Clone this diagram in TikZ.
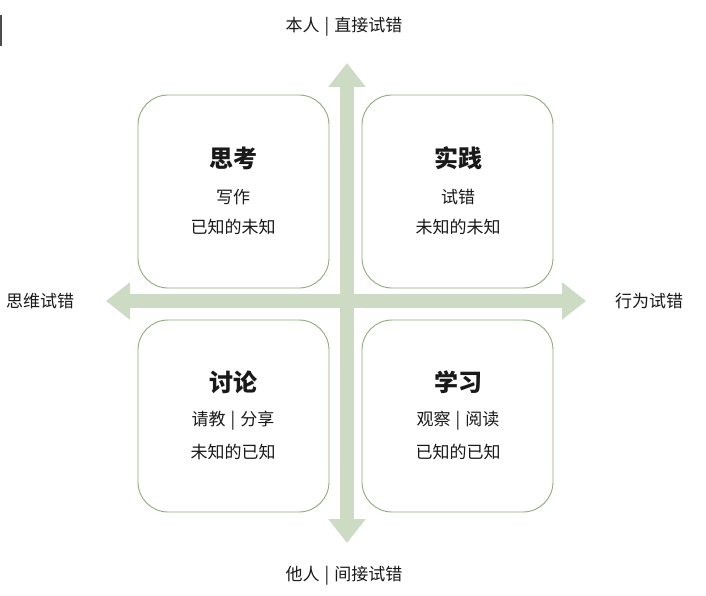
\documentclass[tikz,border=0pt]{standalone}
\usepackage{fontspec}
\newfontfamily\cjk{Noto Sans CJK SC}
\usetikzlibrary{arrows.meta}
\definecolor{axisgreen}{RGB}{206,219,196}
\definecolor{boxline}{RGB}{145,168,122}
\definecolor{inkgray}{RGB}{25,25,25}
\newcommand{\sepbar}{\hspace{5pt}|\hspace{5pt}}
\tikzset{
  quad/.style={draw=boxline, line width=0.9pt, rounded corners=30pt, fill=white},
  title/.style={font=\cjk\fontsize{24}{26}\selectfont\bfseries, text=inkgray},
  body/.style={font=\cjk\fontsize{17}{19}\selectfont, text=inkgray},
  axislabel/.style={font=\cjk\fontsize{17}{19}\selectfont, text=inkgray},
  axis/.style={draw=axisgreen, line width=14pt,
    {Triangle[width=36pt,length=24pt]}-{Triangle[width=36pt,length=24pt]}}
}
\begin{document}
\begin{tikzpicture}[x=1pt,y=-1pt]
\useasboundingbox[fill=white] (0,0) rectangle (706,596);

% small mark on the left edge
\draw[gray!60!black, line width=1.5pt] (1,15) -- (1,46);

% the two axes
\coordinate (top) at (347,63);
\coordinate (bottom) at (347,543);
\coordinate (left) at (106,301);
\coordinate (right) at (586,301);
\draw[axis] (left) -- (right);
\draw[axis] (top) -- (bottom);

% four quadrants
\draw[quad] (138,95) rectangle (329,288);
\draw[quad] (362,95) rectangle (553,288);
\draw[quad] (138,320) rectangle (329,512);
\draw[quad] (362,320) rectangle (553,512);

\node[title] (t1) at (233,158) {思考};
\node[body]  (a1) at (233,197) {写作};
\node[body]  (b1) at (233,227) {已知的未知};

\node[title] (t2) at (458,158) {实践};
\node[body]  (a2) at (458,197) {试错};
\node[body]  (b2) at (458,227) {未知的未知};

\node[title] (t3) at (233,382) {讨论};
\node[body]  (a3) at (233,421) {请教\sepbar 分享};
\node[body]  (b3) at (233,452) {未知的已知};

\node[title] (t4) at (458,382) {学习};
\node[body]  (a4) at (458,421) {观察\sepbar 阅读};
\node[body]  (b4) at (458,452) {已知的已知};

% axis labels
\node[axislabel] (lt) at (344,27) {本人\sepbar 直接试错};
\node[axislabel] (lb) at (344,576) {他人\sepbar 间接试错};
\node[axislabel] (ll) at (40,301) {思维试错};
\node[axislabel] (lr) at (649,301) {行为试错};
\end{tikzpicture}
\end{document}
